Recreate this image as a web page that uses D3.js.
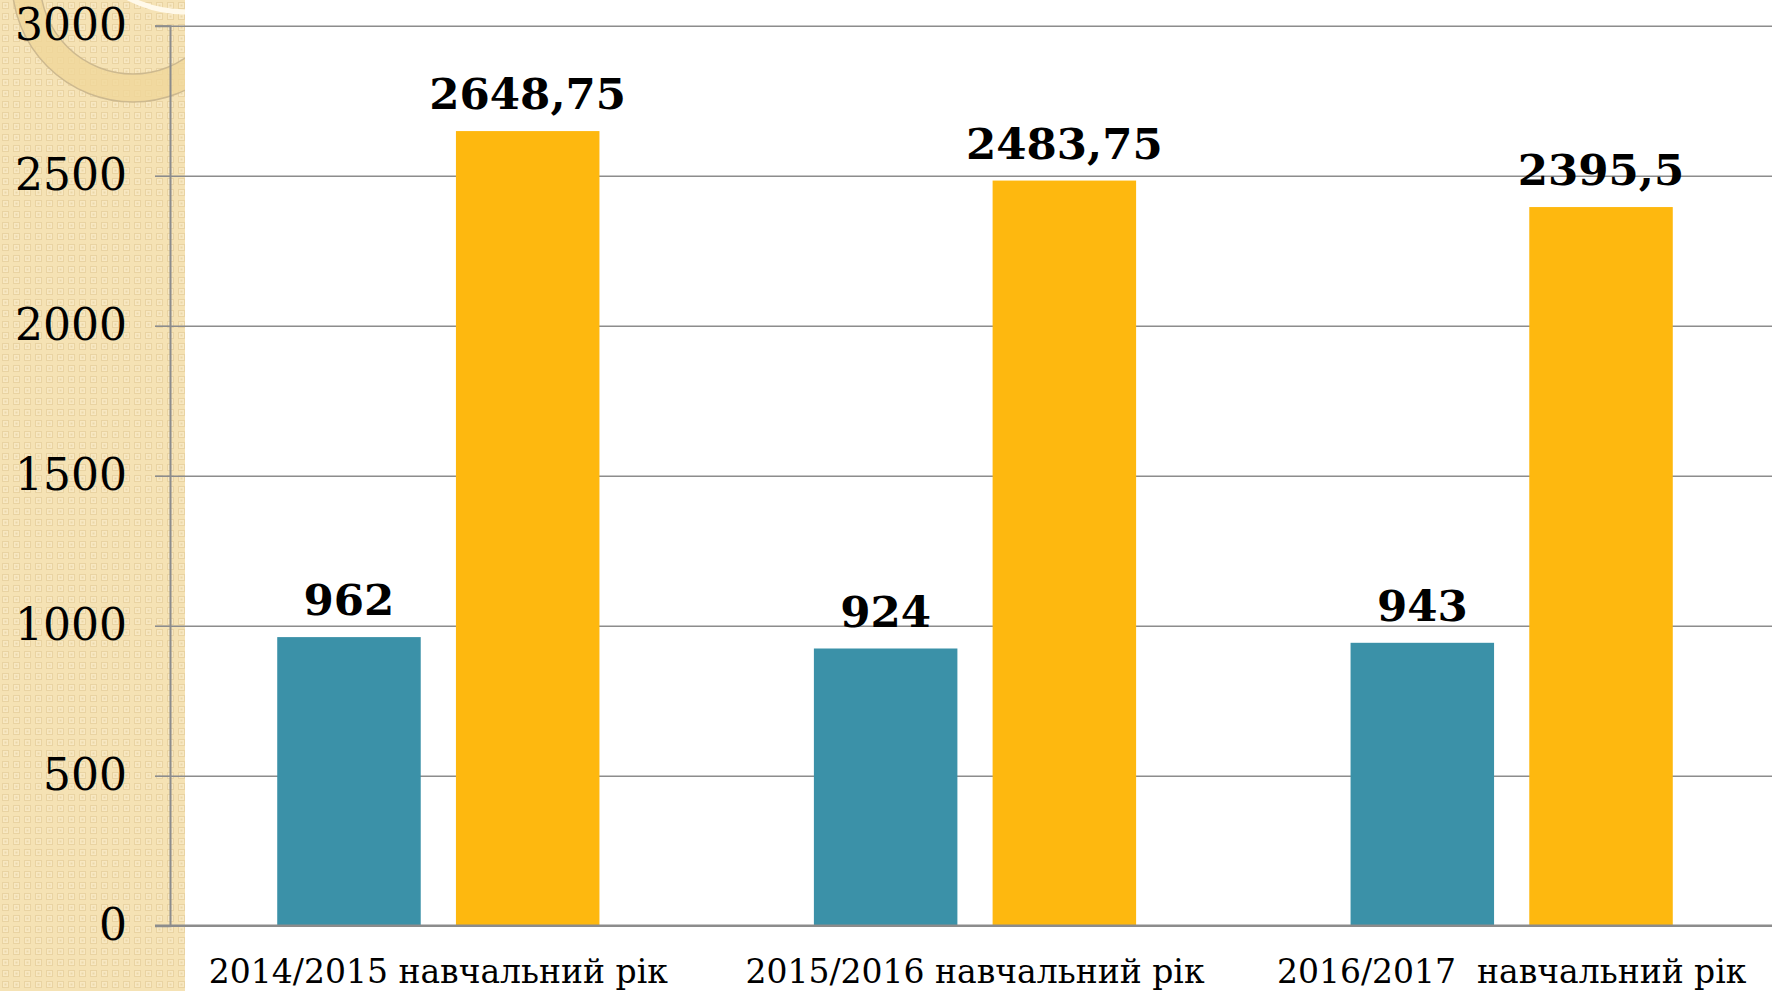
<!DOCTYPE html>
<html>
<head>
<meta charset="utf-8">
<script src="https://cdn.jsdelivr.net/npm/d3@7"></script>
<style>
  body { margin: 0; background: #fff; }
  svg { display: block; }
</style>
</head>
<body>
<svg width="1772" height="991"></svg>
<script>
// навчальні роки
const years = ["2014/2015 навчальний рік", "2015/2016 навчальний рік", "2016/2017  навчальний рік"];
const seriesNames = ["Ряд 1", "Ряд 2"];
const series1 = [962, 924, 943];
const series2 = [2648.75, 2483.75, 2395.5];
const yTicks = [0, 500, 1000, 1500, 2000, 2500, 3000];
const colors = ["#3b91a8", "#feb80f"];

const W = 1772, H = 991;
const axisX = 170, panelW = 185;

const rows = years.map((y, i) => ({ year: y, values: [series1[i], series2[i]] }));

const svg = d3.select("svg");

// бежева панель зліва
const defs = svg.append("defs");
const pat = defs.append("pattern")
  .attr("id", "chk")
  .attr("width", 11).attr("height", 11)
  .attr("patternUnits", "userSpaceOnUse");
pat.append("rect").attr("width", 11).attr("height", 11).attr("fill", "#f5e2b4");
pat.append("rect").attr("x", 2.5).attr("y", 2.5).attr("width", 6).attr("height", 6)
  .attr("fill", "#f8e8c2").attr("stroke", "#e9d3a2").attr("stroke-width", 1);
pat.append("rect").attr("x", 4.5).attr("y", 4.5).attr("width", 2).attr("height", 2).attr("fill", "#ead6a6");

defs.append("clipPath").attr("id", "panelClip")
  .append("rect").attr("width", panelW).attr("height", H);

const panel = svg.append("g").attr("clip-path", "url(#panelClip)");
panel.append("rect").attr("width", panelW).attr("height", H).attr("fill", "url(#chk)");
panel.append("circle").attr("cx", 133).attr("cy", -19).attr("r", 107)
  .attr("fill", "none").attr("stroke", "#f0d79a").attr("stroke-opacity", 0.8).attr("stroke-width", 28);
panel.append("circle").attr("cx", 133).attr("cy", -19).attr("r", 121)
  .attr("fill", "none").attr("stroke", "#cdb98f").attr("stroke-width", 1.5);
panel.append("circle").attr("cx", 133).attr("cy", -19).attr("r", 93)
  .attr("fill", "none").attr("stroke", "#cdb98f").attr("stroke-width", 1.5);
panel.append("circle").attr("cx", 185).attr("cy", -110).attr("r", 122)
  .attr("fill", "none").attr("stroke", "#fff9ea").attr("stroke-width", 5);

// шкали
const y = d3.scaleLinear().domain([0, 3000]).range([925.7, 25.7]);
const x0 = d3.scaleBand().domain(years).range([axisX, W + 8]).paddingInner(0).paddingOuter(0);
const x1 = d3.scaleBand().domain(seriesNames).range([0, x0.bandwidth()])
  .paddingInner(0.197).paddingOuter(0.6);

// сітка
svg.append("g")
  .attr("transform", `translate(${axisX},0)`)
  .call(d3.axisLeft(y).tickValues(yTicks).tickSize(-(W - axisX)).tickFormat(""))
  .call(g => {
    g.select(".domain").remove();
    g.selectAll(".tick line").attr("stroke", "#8c8c8c").attr("stroke-width", 1.6);
  });

// вісь Y
svg.append("g")
  .attr("transform", `translate(${axisX},0)`)
  .call(d3.axisLeft(y).tickValues(yTicks).tickSize(15).tickPadding(28).tickFormat(d3.format("d")))
  .call(g => {
    g.select(".domain").attr("stroke", "#8c8c8c").attr("stroke-width", 2);
    g.selectAll(".tick line").attr("stroke", "#8c8c8c").attr("stroke-width", 1.6);
    g.selectAll(".tick text")
      .attr("fill", "#000")
      .style("font-family", "'DejaVu Serif', serif")
      .style("font-size", "44px");
  });

// стовпчики
const groups = svg.append("g").selectAll("g")
  .data(rows)
  .enter()
  .append("g")
  .attr("transform", d => `translate(${x0(d.year)},0)`);

groups.selectAll("rect")
  .data(d => d.values.map((v, i) => ({ key: seriesNames[i], value: v, i })))
  .enter()
  .append("rect")
  .attr("x", d => x1(d.key))
  .attr("y", d => y(d.value))
  .attr("width", x1.bandwidth())
  .attr("height", d => y(0) - y(d.value))
  .attr("fill", d => colors[d.i]);

// вісь X (нульова лінія)
svg.append("line")
  .attr("x1", axisX - 15).attr("x2", W)
  .attr("y1", y(0)).attr("y2", y(0))
  .attr("stroke", "#8c8c8c").attr("stroke-width", 2.2);

// підписи значень
groups.selectAll("text.val")
  .data(d => d.values.map((v, i) => ({ key: seriesNames[i], value: v })))
  .enter()
  .append("text")
  .attr("class", "val")
  .attr("x", d => x1(d.key) + x1.bandwidth() / 2)
  .attr("y", d => y(d.value) - 22)
  .attr("text-anchor", "middle")
  .style("font-family", "'DejaVu Serif', serif")
  .style("font-weight", "bold")
  .style("font-size", "43.5px")
  .text(d => String(d.value).replace(".", ","));

// підписи категорій
svg.append("g").selectAll("text")
  .data(years)
  .enter()
  .append("text")
  .attr("x", d => x0(d) + x0.bandwidth() / 2)
  .attr("y", 983)
  .attr("text-anchor", "middle")
  .style("white-space", "pre")
  .style("font-family", "'DejaVu Serif', serif")
  .style("font-size", "33px")
  .text(d => d);
</script>
</body>
</html>
